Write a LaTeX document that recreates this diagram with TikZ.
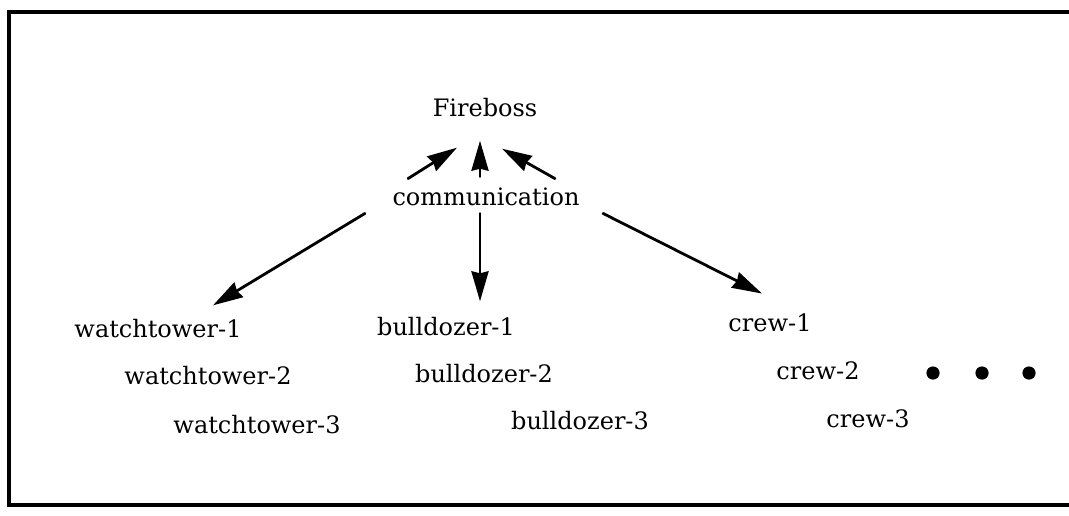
\documentclass[tikz,border=0pt]{standalone}
\usepackage{fontspec}
\setmainfont{DejaVu Serif}
\usetikzlibrary{arrows.meta}
\begin{document}
\begin{tikzpicture}[x=0.5pt,y=-0.5pt,line cap=round,
	lbl/.style={inner sep=0pt,font=\fontsize{12}{14}\selectfont},
	arr/.style={line width=1.4pt,-{Stealth[length=15pt,width=8.5pt,inset=1pt]}}]
	\useasboundingbox (0,0) rectangle (1069,515);
	\draw[line width=2pt,line cap=butt] (1069,12) -- (9,12) -- (9,505) -- (1069,505);
	\node[lbl] (boss) at (485,108) {Fireboss};
	\node[lbl] (comm) at (486,197) {communication};
	\node[lbl] (wt1) at (158,329) {watchtower-1};
	\node[lbl] (wt2) at (208,376) {watchtower-2};
	\node[lbl] (wt3) at (257,425) {watchtower-3};
	\node[lbl] (bd1) at (446,327) {bulldozer-1};
	\node[lbl] (bd2) at (484,374) {bulldozer-2};
	\node[lbl] (bd3) at (580,421) {bulldozer-3};
	\node[lbl] (cr1) at (770,323) {crew-1};
	\node[lbl] (cr2) at (818,371) {crew-2};
	\node[lbl] (cr3) at (868,419) {crew-3};
	\fill (933,373) circle (3.3pt) coordinate (d1);
	\fill (982,373) circle (3.3pt) coordinate (d2);
	\fill (1029,373) circle (3.3pt) coordinate (d3);
	\draw[arr] ([xshift=-39pt,yshift=4.5pt]comm.north) -- ([xshift=-14pt,yshift=-15pt]boss.south);
	\draw[arr] ([xshift=-3pt,yshift=5.5pt]comm.north) -- ([xshift=-2.5pt,yshift=-11.5pt]boss.south);
	\draw[arr] ([xshift=34.5pt,yshift=4.5pt]comm.north) -- ([xshift=8.5pt,yshift=-15.5pt]boss.south);
	\draw[arr] ([xshift=-60.5pt,yshift=-3.5pt]comm.south) -- ([xshift=27.5pt,yshift=7pt]wt1.north);
	\draw[arr] ([xshift=-3pt,yshift=-3.5pt]comm.south) -- ([xshift=17pt,yshift=8pt]bd1.north);
	\draw[arr] ([xshift=58.5pt,yshift=-3.5pt]comm.south) -- ([xshift=-4pt,yshift=10pt]cr1.north);
\end{tikzpicture}
\end{document}
